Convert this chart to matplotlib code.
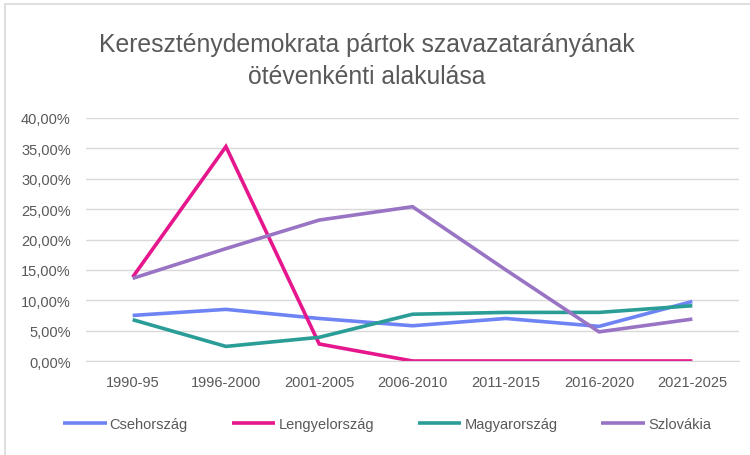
import matplotlib
matplotlib.use('Agg')
import matplotlib.pyplot as plt
from matplotlib.patches import Rectangle
from matplotlib.ticker import FuncFormatter

plt.rcParams['font.family'] = ['Liberation Sans', 'DejaVu Sans']

periods = ['1990-95', '1996-2000', '2001-2005', '2006-2010',
           '2011-2015', '2016-2020', '2021-2025']
cseh = [7.5, 8.5, 7.0, 5.8, 7.0, 5.7, 9.8]
lengyel = [13.8, 35.3, 2.8, 0.0, 0.0, 0.0, 0.0]
magyar = [6.8, 2.4, 3.9, 7.7, 8.0, 8.0, 9.1]
szlovak = [13.6, 18.5, 23.2, 25.4, 15.0, 4.8, 6.9]

series = [
    ('Csehország', cseh, '#6F84F4'),
    ('Lengyelország', lengyel, '#E6168C'),
    ('Magyarország', magyar, '#2A9D96'),
    ('Szlovákia', szlovak, '#9A74C4'),
]

W, H = 750, 456
fig = plt.figure(figsize=(W / 100, H / 100), dpi=100)
ax = fig.add_axes([86 / W, 1 - 362 / H, (739 - 86) / W, (362 - 119) / H])

x = range(len(periods))
for name, vals, color in series:
    ax.plot(x, vals, color=color, linewidth=2.6, label=name,
            solid_capstyle='butt', solid_joinstyle='miter')

ax.set_xlim(-0.5, len(periods) - 0.5)
ax.set_ylim(0, 40)
ax.set_yticks(range(0, 41, 5))
ax.yaxis.set_major_formatter(FuncFormatter(lambda v, p: f'{v:.2f}%'.replace('.', ',')))
ax.set_xticks(list(x))
ax.set_xticklabels(periods)
ax.grid(axis='y', color='#D9D9D9', linewidth=1)
ax.set_axisbelow(True)
for s in ['top', 'right', 'left']:
    ax.spines[s].set_visible(False)
ax.spines['bottom'].set_color('#D9D9D9')
ax.tick_params(axis='both', length=0, colors='#595959', labelsize=10.5)
ax.tick_params(axis='x', pad=10)
ax.tick_params(axis='y', pad=11)

fig.text(367 / W, 1 - 61 / H,
         'Kereszténydemokrata pártok szavazatarányának\nötévenkénti alakulása',
         ha='center', va='center', fontsize=17.8, color='#595959', linespacing=1.45)

fig.legend(loc='center', bbox_to_anchor=(387 / W, 1 - 425 / H), ncol=4,
           frameon=False, fontsize=10.5, handlelength=3.0, handletextpad=0.2,
           columnspacing=3.0, labelcolor='#595959')

fig.patches.append(Rectangle((5 / W, -0.1), 1.2, 1 - 5 / H + 0.1,
                             transform=fig.transFigure, fill=False,
                             edgecolor='#D9D9D9', linewidth=1.2))

fig.savefig('out.png', dpi=100)
